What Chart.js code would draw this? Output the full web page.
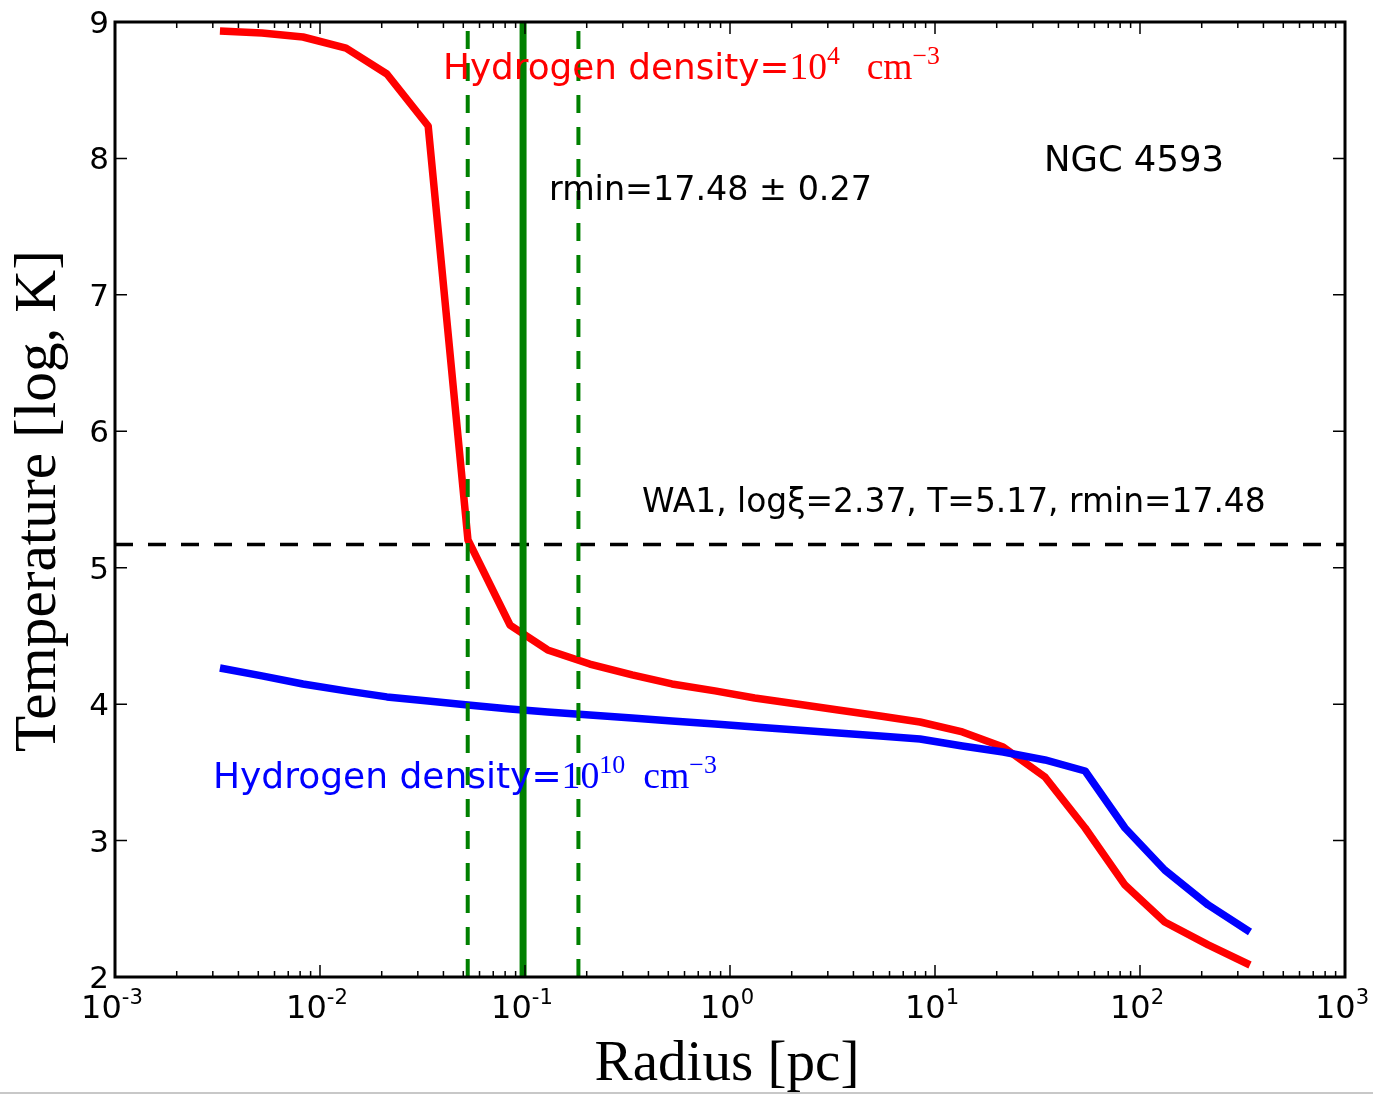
<!DOCTYPE html>
<html>
<head>
<meta charset="utf-8">
<script src="https://cdn.jsdelivr.net/npm/chart.js@4.4.1/dist/chart.umd.min.js"></script>
<style>
  html, body { margin: 0; padding: 0; background: #fff; }
  #wrap { width: 1373px; height: 1095px; position: relative; }
</style>
</head>
<body>
<div id="wrap"><canvas id="tempChart"></canvas></div>
<script>
// radius grid [pc]
const radius = [0.00325, 0.00521, 0.00826, 0.0134, 0.0212, 0.0337, 0.0527, 0.0845, 0.129, 0.207,
  0.333, 0.521, 0.845, 1.32, 2.12, 3.37, 5.40, 8.45, 13.6, 21.5, 34.4, 54.0, 84.5, 132, 215, 344];
// log T for n_H = 1e4 cm^-3 (red)
const tempDensity4 = [8.934, 8.919, 8.890, 8.809, 8.619, 8.238, 5.203, 4.580, 4.397, 4.294,
  4.214, 4.148, 4.097, 4.045, 4.001, 3.957, 3.913, 3.869, 3.796, 3.686, 3.466, 3.092, 2.674, 2.403, 2.235, 2.088];
// log T for n_H = 1e10 cm^-3 (blue)
const tempDensity10 = [4.265, 4.207, 4.148, 4.097, 4.053, 4.023, 3.994, 3.965, 3.943, 3.921,
  3.899, 3.877, 3.855, 3.833, 3.811, 3.789, 3.767, 3.745, 3.693, 3.649, 3.591, 3.510, 3.092, 2.784, 2.528, 2.330];

const xTickExponents = [-3, -2, -1, 0, 1, 2, 3];
const yTicks = [2, 3, 4, 5, 6, 7, 8, 9];

// WA1 values
const rminLog = 17.48;   // log cm
const rminErr = 0.27;
const waTemp = 5.17;
const pcInCm = 3.086e18;

const rminPc = Math.pow(10, rminLog) / pcInCm;
const rminLoPc = Math.pow(10, rminLog - rminErr) / pcInCm;
const rminHiPc = Math.pow(10, rminLog + rminErr) / pcInCm;

const toPoints = (xs, ys) => xs.map((x, i) => ({ x: x, y: ys[i] }));

const SANS = '"DejaVu Sans", sans-serif';
const SERIF = '"Liberation Serif", serif';

// draw a line of mixed text parts, scaled so it fills targetW
function drawRich(ctx, parts, x, y, base, color, targetW, align) {
  const measure = (scale) => {
    let w = 0;
    parts.forEach(p => {
      ctx.font = (base * scale * (p.s || 1)) + 'px ' + (p.f || SANS);
      w += ctx.measureText(p.t).width + (p.gap || 0) * base * scale;
    });
    return w;
  };
  let scale = 1;
  if (targetW) scale = targetW / measure(1);
  const w = measure(scale);
  let cx = x;
  if (align === 'center') cx = x - w / 2;
  ctx.fillStyle = color;
  ctx.textAlign = 'left';
  ctx.textBaseline = 'alphabetic';
  parts.forEach(p => {
    const size = base * scale * (p.s || 1);
    ctx.font = size + 'px ' + (p.f || SANS);
    ctx.fillText(p.t, cx, y - (p.up || 0) * base * scale);
    cx += ctx.measureText(p.t).width + (p.gap || 0) * base * scale;
  });
}

const mplFrame = {
  id: 'mplFrame',
  afterDraw(chart) {
    const ctx = chart.ctx;
    const a = chart.chartArea;
    const xs = chart.scales.x;
    const ys = chart.scales.y;
    ctx.save();

    // ticks (inward, all four sides)
    ctx.strokeStyle = '#000';
    ctx.lineWidth = 1.5;
    ctx.beginPath();
    xTickExponents.forEach((e, i) => {
      const px = xs.getPixelForValue(Math.pow(10, e));
      ctx.moveTo(px, a.bottom); ctx.lineTo(px, a.bottom - 12);
      ctx.moveTo(px, a.top); ctx.lineTo(px, a.top + 12);
      if (i < xTickExponents.length - 1) {
        for (let k = 2; k <= 9; k++) {
          const mx = xs.getPixelForValue(k * Math.pow(10, e));
          ctx.moveTo(mx, a.bottom); ctx.lineTo(mx, a.bottom - 6);
          ctx.moveTo(mx, a.top); ctx.lineTo(mx, a.top + 6);
        }
      }
    });
    yTicks.forEach(v => {
      const py = ys.getPixelForValue(v);
      ctx.moveTo(a.left, py); ctx.lineTo(a.left + 12, py);
      ctx.moveTo(a.right, py); ctx.lineTo(a.right - 12, py);
    });
    ctx.stroke();

    // spines
    ctx.lineWidth = 3;
    ctx.strokeRect(a.left, a.top, a.right - a.left, a.bottom - a.top);

    // y tick labels
    ctx.fillStyle = '#000';
    ctx.font = '31px ' + SANS;
    ctx.textAlign = 'right';
    ctx.textBaseline = 'alphabetic';
    yTicks.forEach(v => {
      ctx.fillText(String(v), a.left - 6, ys.getPixelForValue(v) + 11);
    });

    // x tick labels 10^n
    xTickExponents.forEach(e => {
      const px = xs.getPixelForValue(Math.pow(10, e));
      drawRich(ctx, [
        { t: '10', s: 1 },
        { t: String(e), s: 0.66, up: 0.45 }
      ], px - 3, a.bottom + 41, 32, '#000', null, 'center');
    });

    // axis titles
    drawRich(ctx, [{ t: 'Radius [pc]', f: SERIF }], 727, 1080, 52, '#000', 265, 'center');
    ctx.save();
    ctx.translate(55, 501);
    ctx.rotate(-Math.PI / 2);
    drawRich(ctx, [{ t: 'Temperature [log, K]', f: SERIF }], 0, 0, 52, '#000', 502, 'center');
    ctx.restore();

    // annotations
    drawRich(ctx, [
      { t: 'Hydrogen density=' },
      { t: '10', f: SERIF, s: 1.05 },
      { t: '4', f: SERIF, s: 0.72, up: 0.42, gap: 0.75 },
      { t: 'cm', f: SERIF, s: 1.05 },
      { t: '\u22123', f: SERIF, s: 0.72, up: 0.42 }
    ], 443, 79, 35, '#ff0000', 497);
    drawRich(ctx, [
      { t: 'Hydrogen density=' },
      { t: '10', f: SERIF, s: 1.05 },
      { t: '10', f: SERIF, s: 0.72, up: 0.42, gap: 0.5 },
      { t: 'cm', f: SERIF, s: 1.05 },
      { t: '\u22123', f: SERIF, s: 0.72, up: 0.42 }
    ], 213, 788, 35, '#0000ff', 504);
    drawRich(ctx, [{ t: 'rmin=17.48 \u00b1 0.27' }], 549, 200, 32, '#000', 323);
    drawRich(ctx, [{ t: 'NGC 4593' }], 1044, 171, 35, '#000', 180);
    drawRich(ctx, [{ t: 'WA1, log\u03be=2.37, T=5.17, rmin=17.48' }], 642, 512, 32, '#000', 624);

    // bottom edge line of the picture
    ctx.strokeStyle = '#c8c8c8';
    ctx.lineWidth = 2;
    ctx.beginPath();
    ctx.moveTo(0, 1093); ctx.lineTo(chart.width, 1093);
    ctx.stroke();

    ctx.restore();
  }
};

const line = (data, color, width, order, dash) => ({
  data: data,
  showLine: true,
  borderColor: color,
  borderWidth: width,
  borderDash: dash || [],
  borderCapStyle: 'butt',
  borderJoinStyle: 'round',
  pointRadius: 0,
  tension: 0,
  order: order
});

new Chart(document.getElementById('tempChart'), {
  type: 'scatter',
  data: {
    datasets: [
      line(toPoints(radius, tempDensity4), '#ff0000', 7.5, 3),
      line(toPoints(radius, tempDensity10), '#0000ff', 7.5, 2),
      line([{ x: 1e-3, y: waTemp }, { x: 1e3, y: waTemp }], '#000000', 3.5, 1, [18, 15]),
      line([{ x: rminPc, y: 2 }, { x: rminPc, y: 9 }], '#008000', 7, 0),
      line([{ x: rminLoPc, y: 2 }, { x: rminLoPc, y: 9 }], '#008000', 4, 0, [18, 14]),
      line([{ x: rminHiPc, y: 2 }, { x: rminHiPc, y: 9 }], '#008000', 4, 0, [18, 14])
    ]
  },
  options: {
    responsive: true,
    maintainAspectRatio: false,
    animation: false,
    events: [],
    layout: { padding: { left: 115, right: 28, top: 22, bottom: 118 } },
    plugins: { legend: { display: false }, tooltip: { enabled: false } },
    scales: {
      x: { type: 'logarithmic', min: 1e-3, max: 1e3, display: false },
      y: { type: 'linear', min: 2, max: 9, display: false }
    }
  },
  plugins: [mplFrame]
});
</script>
</body>
</html>
